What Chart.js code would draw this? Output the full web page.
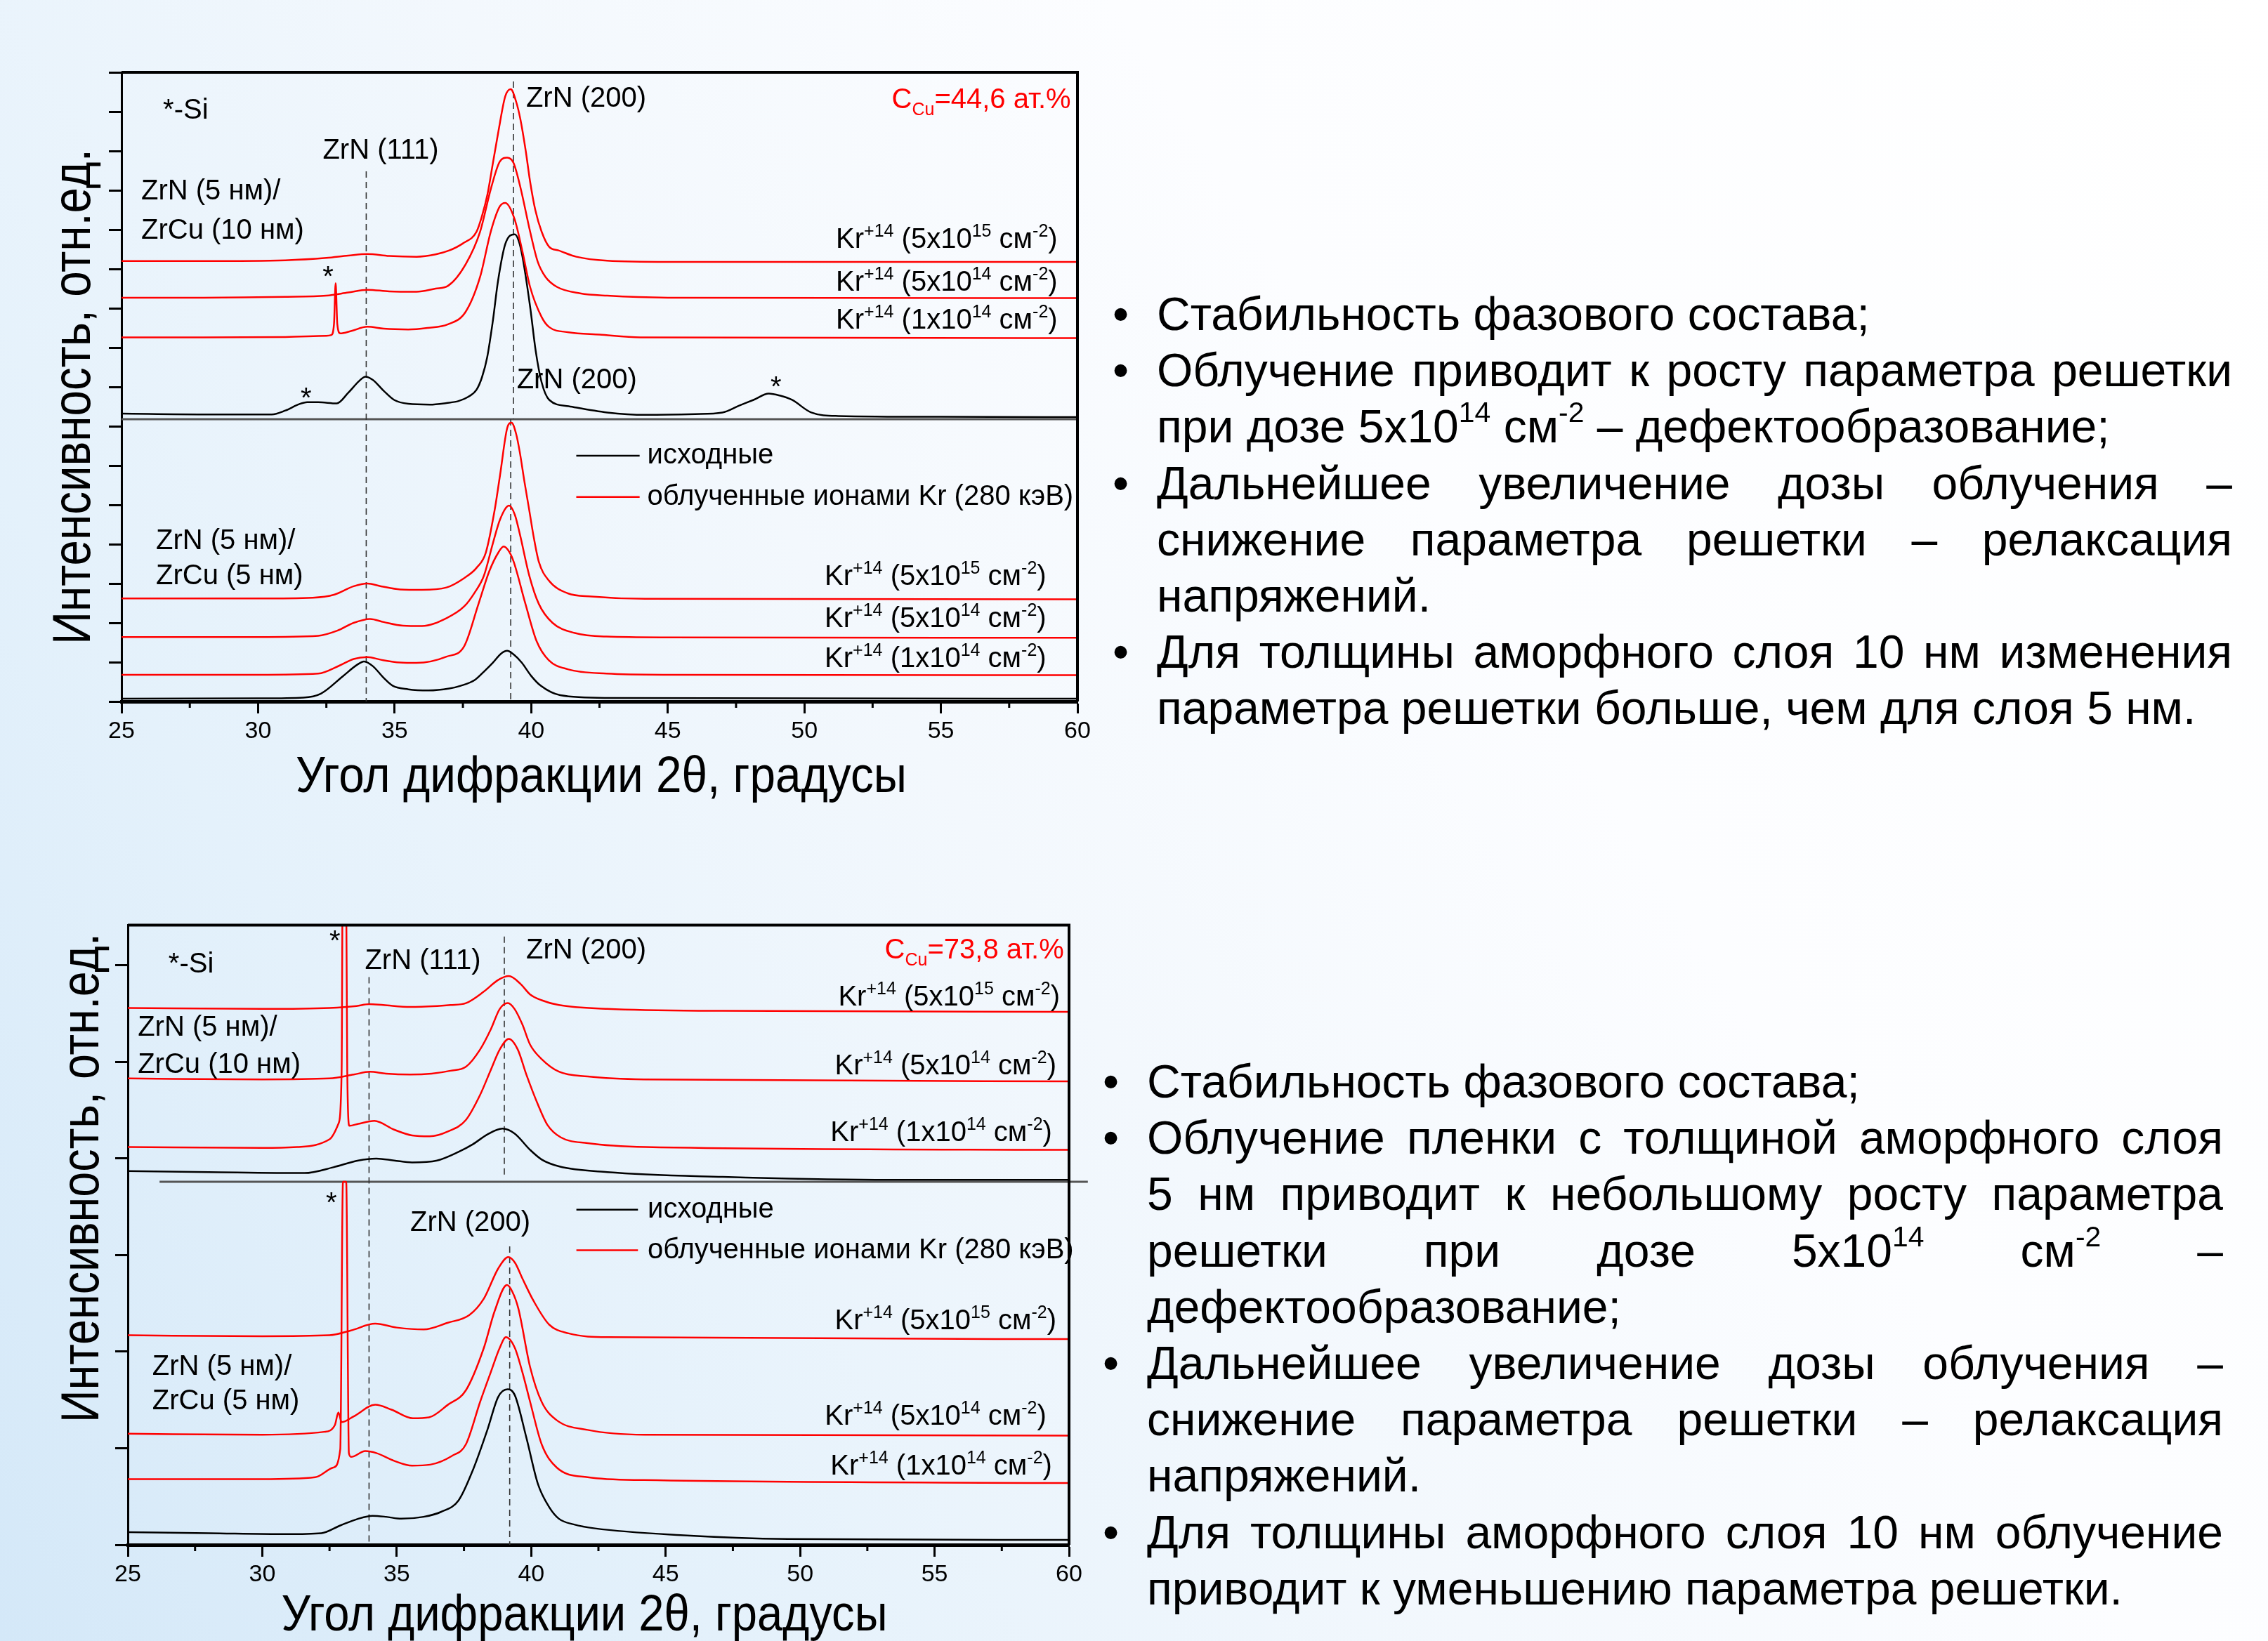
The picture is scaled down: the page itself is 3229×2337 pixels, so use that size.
<!DOCTYPE html>
<html lang="ru">
<head>
<meta charset="utf-8">
<title>ZrN/ZrCu — облучение ионами Kr</title>
<script src="https://cdn.jsdelivr.net/npm/chart.js@4.4.1/dist/chart.umd.min.js"></script>
<style>
  html, body { margin: 0; padding: 0; }
  body {
    width: 3229px; height: 2337px; position: relative; overflow: hidden;
    background: linear-gradient(58deg, #d4e8f8 0%, #e4f1fb 22%, #f3f8fd 45%, #fcfdff 65%, #ffffff 100%);
    font-family: "Liberation Sans", Arial, sans-serif;
  }
  canvas { position: absolute; left: 0; }
  #xrdTop { top: 0; }
  #xrdBottom { top: 1200px; }
  .notes { position: absolute; font-size: 66px; line-height: 80.2px; color: #000; }
  .notes .item { position: relative; padding-left: 63px; }
  .notes .item::before { content: "\2022"; position: absolute; left: 0; top: 0; }
  .notes .ln { text-align: justify; text-align-last: justify; }
  .notes .ln.end { text-align: left; text-align-last: left; }
  .notes sup { font-size: 0.62em; line-height: 0; vertical-align: 0.7em; }
</style>
</head>
<body>
<canvas id="xrdTop" width="1600" height="1200"></canvas>
<canvas id="xrdBottom" width="1600" height="1137"></canvas>

<div class="notes" style="left:1584px; top:407px; width:1594px;">
  <div class="item"><div class="ln end">Стабильность фазового состава;</div></div>
  <div class="item">
    <div class="ln">Облучение приводит к росту параметра решетки</div>
    <div class="ln end">при дозе 5x10<sup>14</sup> см<sup>-2</sup> – дефектообразование;</div>
  </div>
  <div class="item">
    <div class="ln">Дальнейшее увеличение дозы облучения –</div>
    <div class="ln">снижение параметра решетки – релаксация</div>
    <div class="ln end">напряжений.</div>
  </div>
  <div class="item">
    <div class="ln">Для толщины аморфного слоя 10 нм изменения</div>
    <div class="ln end">параметра решетки больше, чем для слоя 5 нм.</div>
  </div>
</div>

<div class="notes" style="left:1570px; top:1500px; width:1595px;">
  <div class="item"><div class="ln end">Стабильность фазового состава;</div></div>
  <div class="item">
    <div class="ln">Облучение пленки с толщиной аморфного слоя</div>
    <div class="ln">5 нм приводит к небольшому росту параметра</div>
    <div class="ln">решетки при дозе 5x10<sup>14</sup> см<sup>-2</sup> –</div>
    <div class="ln end">дефектообразование;</div>
  </div>
  <div class="item">
    <div class="ln">Дальнейшее увеличение дозы облучения –</div>
    <div class="ln">снижение параметра решетки – релаксация</div>
    <div class="ln end">напряжений.</div>
  </div>
  <div class="item">
    <div class="ln">Для толщины аморфного слоя 10 нм облучение</div>
    <div class="ln end">приводит к уменьшению параметра решетки.</div>
  </div>
</div>

<script>
// ---- Diffraction patterns, [2θ (deg), intensity (arb. units, stacked offsets)] ----
const angleRange = [25, 60];
const angleTickLabels = [25, 30, 35, 40, 45, 50, 55, 60];

// C_Cu = 44,6 at.%: ZrN(5 nm)/ZrCu(10 nm)
const cu44_10nm_kr5e15 = [[25,11.20],[28,11.20],[31,11.22],[32.5,11.28],[33.3,11.34],[34.0,11.38],[34.8,11.33],[35.8,11.31],[36.5,11.37],[37.0,11.47],[37.5,11.65],[38.0,11.95],[38.2,12.35],[38.4,12.90],[38.6,13.70],[38.8,14.50],[39.05,15.39],[39.25,15.57],[39.45,15.25],[39.6,14.82],[39.8,14.0],[39.96,13.22],[40.15,12.50],[40.38,11.95],[40.66,11.56],[41.0,11.47],[41.65,11.31],[42.78,11.21],[45,11.18],[50,11.18],[55,11.18],[60,11.18]];
const cu44_10nm_kr5e14 = [[25,10.27],[28,10.27],[31,10.29],[32.5,10.32],[33.3,10.40],[34.0,10.47],[34.8,10.43],[35.8,10.42],[36.5,10.50],[36.95,10.57],[37.6,11.12],[38.13,11.95],[38.52,13.03],[38.85,13.73],[39.12,13.83],[39.35,13.70],[39.6,13.09],[39.96,11.95],[40.24,11.18],[40.52,10.80],[40.95,10.54],[41.79,10.38],[42.78,10.32],[45,10.27],[60,10.26]];
const cu44_10nm_kr1e14 = [[25,9.26],[28,9.26],[31,9.27],[32.5,9.30],[32.68,9.32],[32.78,9.60],[32.84,10.64],[32.9,9.60],[33.01,9.36],[33.4,9.42],[34.0,9.53],[34.6,9.48],[35.5,9.46],[36.2,9.50],[36.95,9.59],[37.6,9.91],[38.13,10.80],[38.52,11.95],[38.85,12.59],[39.05,12.68],[39.39,12.27],[39.68,11.44],[39.96,10.54],[40.38,9.78],[40.66,9.52],[41.37,9.39],[42.5,9.33],[44,9.26],[60,9.24]];
const cu44_10nm_initial = [[25,7.32],[28,7.30],[30.5,7.30],[31.0,7.40],[31.5,7.56],[31.8,7.61],[32.2,7.61],[32.88,7.58],[33.3,7.85],[33.7,8.15],[33.93,8.26],[34.2,8.18],[34.6,7.90],[34.98,7.67],[35.5,7.57],[36.29,7.55],[36.9,7.59],[37.34,7.64],[37.7,7.75],[38.0,7.93],[38.2,8.25],[38.39,8.76],[38.6,9.70],[38.78,10.67],[39.05,11.63],[39.4,11.88],[39.55,11.70],[39.68,11.31],[39.96,10.04],[40.17,8.89],[40.38,8.12],[40.66,7.67],[41.37,7.51],[42.78,7.35],[44.19,7.29],[46.0,7.31],[47.0,7.35],[47.6,7.52],[48.14,7.67],[48.7,7.83],[49.1,7.78],[49.55,7.67],[50.25,7.35],[51.24,7.26],[55,7.24],[60,7.23]];
// C_Cu = 44,6 at.%: ZrN(5 nm)/ZrCu(5 nm)
const cu44_5nm_kr5e15 = [[25,2.62],[30,2.62],[32,2.64],[32.8,2.72],[33.5,2.93],[34.0,3.00],[34.5,2.93],[35.2,2.85],[36.0,2.84],[36.9,2.90],[37.55,3.14],[38.0,3.40],[38.34,3.79],[38.66,4.86],[38.86,5.76],[39.12,6.95],[39.28,7.09],[39.45,6.80],[39.58,6.35],[39.75,5.60],[39.93,4.86],[40.1,4.15],[40.28,3.55],[40.64,3.08],[41.34,2.75],[42.2,2.67],[44.17,2.61],[60,2.60]];
const cu44_5nm_kr5e14 = [[25,1.64],[30,1.64],[32.2,1.67],[32.9,1.80],[33.5,2.00],[34.1,2.10],[34.6,2.02],[35.3,1.93],[36.0,1.92],[36.9,2.12],[37.55,2.42],[37.94,2.78],[38.27,3.20],[38.6,4.03],[38.86,4.63],[39.19,4.98],[39.4,4.75],[39.58,4.27],[39.93,3.20],[40.28,2.48],[40.78,2.00],[41.6,1.74],[42.76,1.65],[45,1.63],[60,1.62]];
const cu44_5nm_kr1e14 = [[25,0.68],[30,0.68],[32.2,0.71],[33.0,0.92],[33.5,1.08],[34.0,1.13],[34.5,1.06],[35.2,0.99],[35.8,0.98],[36.9,1.14],[37.55,1.41],[38.07,2.48],[38.47,3.32],[38.8,3.79],[38.99,3.94],[39.2,3.80],[39.36,3.55],[39.79,2.48],[40.2,1.53],[40.64,1.05],[41.34,0.82],[42.76,0.71],[45,0.68],[60,0.67]];
const cu44_5nm_initial = [[25,0.07],[30,0.08],[31.66,0.10],[32.3,0.20],[33.1,0.64],[33.62,0.93],[33.88,1.02],[34.2,0.90],[34.6,0.60],[34.93,0.40],[35.5,0.31],[36.24,0.28],[37.0,0.33],[37.42,0.40],[37.94,0.55],[38.3,0.78],[38.6,0.99],[38.9,1.22],[39.12,1.29],[39.35,1.20],[39.65,0.99],[40.0,0.65],[40.35,0.40],[41.06,0.16],[42.76,0.09],[60,0.07]];

// C_Cu = 73,8 at.%: ZrN(5 nm)/ZrCu(10 nm)
const cu73_10nm_kr5e15 = [[25,5.56],[30,5.55],[32.5,5.56],[33.5,5.58],[33.97,5.60],[34.5,5.59],[35.5,5.57],[36.5,5.58],[37.0,5.59],[37.57,5.61],[38.24,5.73],[38.77,5.85],[39.17,5.89],[39.6,5.81],[39.96,5.70],[40.39,5.64],[41.03,5.59],[42.83,5.55],[47.12,5.53],[60,5.52]];
const cu73_10nm_kr5e14 = [[25,4.83],[30,4.82],[32.5,4.83],[33.4,4.87],[34.0,4.90],[34.6,4.88],[35.5,4.87],[36.3,4.88],[37.0,4.91],[37.57,4.95],[38.1,5.13],[38.5,5.34],[38.83,5.55],[39.13,5.61],[39.38,5.55],[39.67,5.39],[39.96,5.18],[40.39,5.03],[41.03,4.90],[42.1,4.85],[44.2,4.82],[60,4.80]];
const cu73_10nm_kr1e14 = [[25,4.12],[30,4.11],[31.3,4.12],[31.97,4.14],[32.5,4.20],[32.83,4.36],[32.95,4.90],[33.0,7.5],[33.1,7.5],[33.16,4.90],[33.24,4.34],[33.57,4.36],[34.17,4.39],[34.9,4.30],[35.57,4.24],[36.23,4.23],[36.9,4.28],[37.57,4.40],[38.1,4.66],[38.5,4.92],[38.83,5.13],[39.17,5.24],[39.5,5.13],[39.82,4.87],[40.25,4.56],[40.6,4.35],[41.1,4.22],[42.1,4.16],[44.26,4.12],[60,4.09]];
const cu73_10nm_initial = [[25,3.87],[28,3.86],[31.57,3.85],[32.64,3.91],[33.57,3.98],[34.24,4.00],[34.9,3.98],[35.57,3.96],[36.5,3.98],[37.3,4.07],[37.84,4.15],[38.37,4.25],[38.93,4.31],[39.38,4.26],[39.96,4.09],[40.39,3.99],[41.03,3.92],[42.83,3.86],[47.12,3.81],[52.8,3.78],[60,3.78]];
// C_Cu = 73,8 at.%: ZrN(5 nm)/ZrCu(5 nm)
const cu73_5nm_kr5e15 = [[25,2.17],[30,2.16],[32.5,2.17],[33.3,2.22],[34.2,2.29],[35.0,2.25],[36.0,2.23],[36.9,2.30],[37.7,2.38],[38.24,2.55],[38.77,2.86],[39.15,2.98],[39.4,2.92],[39.67,2.76],[40.1,2.52],[40.67,2.28],[41.39,2.19],[42.83,2.15],[60,2.13]];
const cu73_5nm_kr5e14 = [[25,1.15],[30,1.14],[32.3,1.17],[32.7,1.24],[32.83,1.37],[32.95,1.27],[33.4,1.33],[34.2,1.45],[34.8,1.40],[35.6,1.31],[36.2,1.32],[36.9,1.45],[37.57,1.60],[38.24,2.04],[38.64,2.42],[39.1,2.69],[39.3,2.62],[39.52,2.45],[39.96,1.84],[40.39,1.48],[40.95,1.29],[42.1,1.19],[44.2,1.14],[60,1.13]];
const cu73_5nm_kr1e14 = [[25,0.68],[30,0.68],[31.97,0.70],[32.64,0.80],[32.9,0.99],[33.0,3.76],[33.12,3.76],[33.22,0.95],[33.3,0.91],[33.83,0.97],[34.24,0.95],[34.9,0.87],[35.57,0.82],[36.24,0.83],[37.05,0.92],[37.57,1.04],[38.1,1.48],[38.5,1.79],[38.83,2.04],[39.06,2.15],[39.39,2.04],[39.67,1.79],[39.96,1.48],[40.39,1.04],[40.95,0.80],[42.1,0.70],[44.2,0.67],[60,0.64]];
const cu73_5nm_initial = [[25,0.13],[28,0.12],[30.9,0.11],[32.2,0.12],[32.9,0.20],[33.57,0.27],[34.1,0.30],[34.6,0.29],[35.17,0.27],[36.0,0.29],[36.64,0.34],[37.3,0.46],[37.84,0.78],[38.37,1.19],[38.77,1.53],[39.12,1.61],[39.39,1.55],[39.82,1.11],[40.25,0.63],[40.67,0.39],[41.03,0.27],[41.6,0.21],[42.37,0.17],[45.55,0.10],[49.55,0.06],[60,0.05]];

// ---- Text shown on the plots ----
const legendInitial = 'исходные';
const legendIrradiated = 'облученные ионами Kr (280 кэВ)';
const axisTitleX = 'Угол дифракции 2θ, градусы';
const axisTitleY = 'Интенсивность, отн.ед.';
const doseLabels = {
  d5e15: [['Kr'], ['+14', 'sup'], [' (5x10'], ['15', 'sup'], [' см'], ['-2', 'sup'], [')']],
  d5e14: [['Kr'], ['+14', 'sup'], [' (5x10'], ['14', 'sup'], [' см'], ['-2', 'sup'], [')']],
  d1e14: [['Kr'], ['+14', 'sup'], [' (1x10'], ['14', 'sup'], [' см'], ['-2', 'sup'], [')']]
};

const FONT = '"Liberation Sans", Arial, sans-serif';
const RED = '#ff0000';
const BLACK = '#000000';

function series(points, color) {
  return {
    data: points.map(([x, y]) => ({ x, y })),
    borderColor: color,
    borderWidth: 2.5,
    pointRadius: 0,
    fill: false,
    cubicInterpolationMode: 'monotone'
  };
}

function drawRich(ctx, parts, x, y, size, align, color) {
  const small = Math.round(size * 0.62);
  let w = 0;
  parts.forEach(p => { ctx.font = (p[1] ? small : size) + 'px ' + FONT; w += ctx.measureText(p[0]).width; });
  let cx = align === 'right' ? x - w : align === 'center' ? x - w / 2 : x;
  ctx.fillStyle = color || BLACK;
  ctx.textAlign = 'left';
  ctx.textBaseline = 'alphabetic';
  parts.forEach(p => {
    const s = p[1] ? small : size;
    ctx.font = s + 'px ' + FONT;
    const dy = p[1] === 'sup' ? -size * 0.40 : p[1] === 'sub' ? size * 0.24 : 0;
    ctx.fillText(p[0], cx, y + dy);
    cx += ctx.measureText(p[0]).width;
  });
}

function drawFitted(ctx, text, cx, cy, size, width, rotated) {
  ctx.save();
  ctx.font = size + 'px ' + FONT;
  const w = ctx.measureText(text).width;
  ctx.translate(cx, cy);
  if (rotated) ctx.rotate(-Math.PI / 2);
  ctx.scale(width / w, 1);
  ctx.fillStyle = BLACK;
  ctx.textAlign = 'center';
  ctx.textBaseline = 'alphabetic';
  ctx.fillText(text, 0, 0);
  ctx.restore();
}

function decorPlugin(spec) {
  return {
    id: 'xrdDecor',
    beforeDatasetsDraw(chart) {
      const { ctx } = chart;
      const xs = chart.scales.x, ys = chart.scales.y;
      ctx.save();
      // panel separator
      ctx.strokeStyle = '#555';
      ctx.lineWidth = 3;
      ctx.beginPath();
      ctx.moveTo(xs.getPixelForValue(spec.divider.x1), ys.getPixelForValue(spec.divider.y));
      ctx.lineTo(xs.getPixelForValue(spec.divider.x2), ys.getPixelForValue(spec.divider.y));
      ctx.stroke();
      // reflection positions
      ctx.strokeStyle = '#333';
      ctx.lineWidth = 1.6;
      ctx.setLineDash([9, 6]);
      spec.dashed.forEach(d => {
        const px = xs.getPixelForValue(d.x);
        ctx.beginPath();
        ctx.moveTo(px, ys.getPixelForValue(d.y1));
        ctx.lineTo(px, ys.getPixelForValue(d.y2));
        ctx.stroke();
      });
      ctx.restore();
    },
    afterDatasetsDraw(chart) {
      const { ctx, chartArea: a } = chart;
      const xs = chart.scales.x, ys = chart.scales.y;
      ctx.save();
      // frame: top and right edges
      ctx.strokeStyle = BLACK;
      ctx.lineWidth = 4;
      ctx.beginPath();
      ctx.moveTo(a.left, a.top);
      ctx.lineTo(a.right, a.top);
      ctx.lineTo(a.right, a.bottom);
      ctx.stroke();
      // minor ticks on the angle axis
      ctx.lineWidth = 3;
      for (let v = 27.5; v < 60; v += 5) {
        const px = xs.getPixelForValue(v);
        ctx.beginPath();
        ctx.moveTo(px, a.bottom);
        ctx.lineTo(px, a.bottom + 9);
        ctx.stroke();
      }
      // annotations
      spec.labels.forEach(l => {
        drawRich(ctx, l.parts, xs.getPixelForValue(l.x), ys.getPixelForValue(l.y), l.size || 40, l.align || 'left', l.color);
      });
      // legend
      const lg = spec.legend;
      [[legendInitial, BLACK, lg.y1], [legendIrradiated, RED, lg.y2]].forEach(([text, color, yv]) => {
        const py = ys.getPixelForValue(yv);
        ctx.strokeStyle = color;
        ctx.lineWidth = 2.5;
        ctx.beginPath();
        ctx.moveTo(xs.getPixelForValue(lg.lineFrom), py);
        ctx.lineTo(xs.getPixelForValue(lg.lineTo), py);
        ctx.stroke();
        drawRich(ctx, [[text]], xs.getPixelForValue(lg.textAt), py + 11, 40, 'left', BLACK);
      });
      // axis titles
      const t = spec.titles;
      drawFitted(ctx, axisTitleX, t.xCenter, t.xBaseline, 72, t.xWidth, false);
      drawFitted(ctx, axisTitleY, t.yBaseline, t.yCenter, 76, t.yLength, true);
      ctx.restore();
    }
  };
}

function makeChart(id, datasets, yMax, frame, spec) {
  const canvas = document.getElementById(id);
  return new Chart(canvas, {
    type: 'line',
    data: { datasets },
    options: {
      responsive: false,
      animation: false,
      events: [],
      layout: { padding: { left: 0, top: frame.top, right: frame.right, bottom: 0 } },
      plugins: { legend: { display: false }, tooltip: { enabled: false } },
      scales: {
        x: {
          type: 'linear', position: 'bottom', min: angleRange[0], max: angleRange[1],
          border: { display: true, color: BLACK, width: 5 },
          grid: { drawOnChartArea: false, drawTicks: true, tickLength: 17, tickWidth: 3, tickColor: BLACK },
          ticks: {
            stepSize: 5, autoSkip: false, maxRotation: 0, padding: 5, color: BLACK,
            font: { family: FONT, size: 34 },
            callback: v => angleTickLabels.includes(v) ? String(v) : ''
          },
          afterFit: s => { s.height = frame.xAxisHeight; }
        },
        y: {
          type: 'linear', position: 'left', min: 0, max: yMax,
          border: { display: true, color: BLACK, width: 3 },
          grid: { drawOnChartArea: false, drawTicks: true, tickLength: 18, tickWidth: 3, tickColor: BLACK },
          ticks: { stepSize: 1, includeBounds: false, callback: () => '' },
          afterFit: s => { s.width = frame.yAxisWidth; }
        }
      }
    },
    plugins: [decorPlugin(spec)]
  });
}

// ---- C_Cu = 44,6 at.% ----
makeChart('xrdTop', [
  series(cu44_10nm_kr5e15, RED),
  series(cu44_10nm_kr5e14, RED),
  series(cu44_10nm_kr1e14, RED),
  series(cu44_10nm_initial, BLACK),
  series(cu44_5nm_kr5e15, RED),
  series(cu44_5nm_kr5e14, RED),
  series(cu44_5nm_kr1e14, RED),
  series(cu44_5nm_initial, BLACK)
], 16, { top: 103, right: 66, xAxisHeight: 201, yAxisWidth: 173 }, {
  divider: { y: 7.18, x1: 25, x2: 60 },
  dashed: [ { x: 33.96, y1: 13.48, y2: 0 }, { x: 39.35, y1: 15.77, y2: 7.18 }, { x: 39.25, y1: 7.18, y2: 0 } ],
  labels: [
    { x: 26.52, y: 14.82, parts: [['*-Si']] },
    { x: 34.49, y: 13.80, parts: [['ZrN (111)']], align: 'center' },
    { x: 39.81, y: 15.13, parts: [['ZrN (200)']] },
    { x: 59.76, y: 15.09, parts: [['C'], ['Cu', 'sub'], ['=44,6 ат.%']], align: 'right', color: RED },
    { x: 25.72, y: 12.77, parts: [['ZrN (5 нм)/']] },
    { x: 25.72, y: 11.77, parts: [['ZrCu (10 нм)']] },
    { x: 32.56, y: 10.57, parts: [['*']], align: 'center' },
    { x: 31.76, y: 7.48, parts: [['*']], align: 'center' },
    { x: 39.47, y: 7.96, parts: [['ZrN (200)']] },
    { x: 48.96, y: 7.77, parts: [['*']], align: 'center' },
    { x: 59.27, y: 11.54, parts: doseLabels.d5e15, align: 'right' },
    { x: 59.27, y: 10.45, parts: doseLabels.d5e14, align: 'right' },
    { x: 59.27, y: 9.49, parts: doseLabels.d1e14, align: 'right' },
    { x: 26.26, y: 3.88, parts: [['ZrN (5 нм)/']] },
    { x: 26.26, y: 2.98, parts: [['ZrCu (5 нм)']] },
    { x: 58.86, y: 2.96, parts: doseLabels.d5e15, align: 'right' },
    { x: 58.86, y: 1.89, parts: doseLabels.d5e14, align: 'right' },
    { x: 58.86, y: 0.875, parts: doseLabels.d1e14, align: 'right' }
  ],
  legend: { lineFrom: 41.65, lineTo: 43.97, textAt: 44.25, y1: 6.25, y2: 5.2 },
  titles: { xCenter: 856, xBaseline: 1128, xWidth: 870, yBaseline: 128, yCenter: 565, yLength: 706 }
});

// ---- C_Cu = 73,8 at.% ----
makeChart('xrdBottom', [
  series(cu73_10nm_kr5e15, RED),
  series(cu73_10nm_kr5e14, RED),
  series(cu73_10nm_kr1e14, RED),
  series(cu73_10nm_initial, BLACK),
  series(cu73_5nm_kr5e15, RED),
  series(cu73_5nm_kr5e14, RED),
  series(cu73_5nm_kr1e14, RED),
  series(cu73_5nm_initial, BLACK)
], 6.418, { top: 117.5, right: 78, xAxisHeight: 137, yAxisWidth: 182 }, {
  divider: { y: 3.76, x1: 26.18, x2: 60.7 },
  dashed: [ { x: 33.97, y1: 5.88, y2: 0 }, { x: 39.0, y1: 6.30, y2: 3.83 }, { x: 39.2, y1: 3.09, y2: 0 } ],
  labels: [
    { x: 26.51, y: 5.93, parts: [['*-Si']] },
    { x: 32.70, y: 6.16, parts: [['*']], align: 'center' },
    { x: 35.97, y: 5.96, parts: [['ZrN (111)']], align: 'center' },
    { x: 39.81, y: 6.07, parts: [['ZrN (200)']] },
    { x: 59.81, y: 6.07, parts: [['C'], ['Cu', 'sub'], ['=73,8 ат.%']], align: 'right', color: RED },
    { x: 25.37, y: 5.27, parts: [['ZrN (5 нм)/']] },
    { x: 25.37, y: 4.89, parts: [['ZrCu (10 нм)']] },
    { x: 59.66, y: 5.585, parts: doseLabels.d5e15, align: 'right' },
    { x: 59.53, y: 4.87, parts: doseLabels.d5e14, align: 'right' },
    { x: 59.37, y: 4.18, parts: doseLabels.d1e14, align: 'right' },
    { x: 32.57, y: 3.45, parts: [['*']], align: 'center' },
    { x: 35.50, y: 3.25, parts: [['ZrN (200)']] },
    { x: 25.91, y: 1.76, parts: [['ZrN (5 нм)/']] },
    { x: 25.91, y: 1.40, parts: [['ZrCu (5 нм)']] },
    { x: 59.53, y: 2.23, parts: doseLabels.d5e15, align: 'right' },
    { x: 59.16, y: 1.24, parts: doseLabels.d5e14, align: 'right' },
    { x: 59.37, y: 0.73, parts: doseLabels.d1e14, align: 'right' }
  ],
  legend: { lineFrom: 41.68, lineTo: 43.97, textAt: 44.33, y1: 3.47, y2: 3.05 },
  titles: { xCenter: 832, xBaseline: 1122, xWidth: 863, yBaseline: 140, yCenter: 477.5, yLength: 697 }
});
</script>
</body>
</html>
